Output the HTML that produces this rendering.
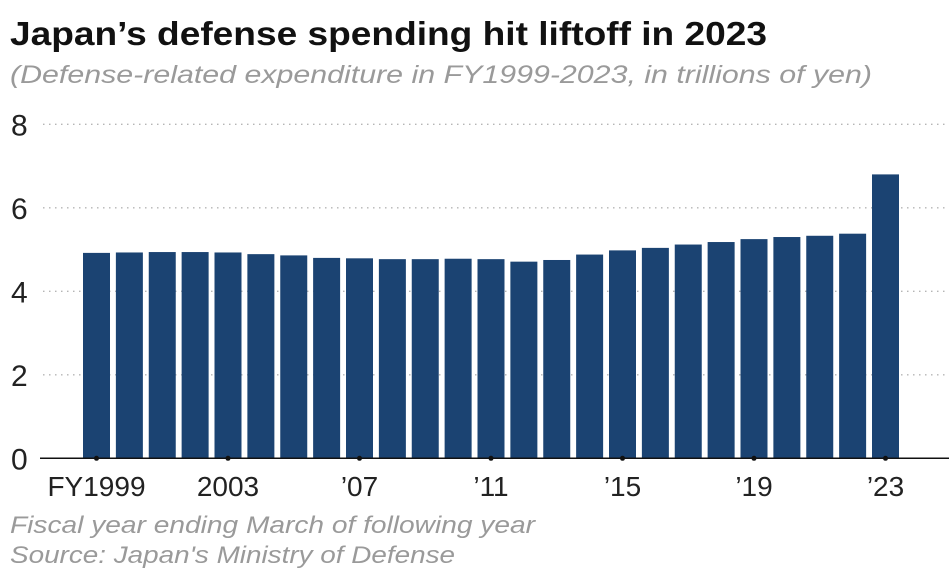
<!DOCTYPE html>
<html><head><meta charset="utf-8"><style>
body{margin:0;background:#fff;width:949px;height:577px;overflow:hidden;font-family:"Liberation Sans",sans-serif}
</style></head><body>
<svg width="949" height="577">
<text x="10" y="45" font-size="33" font-weight="bold" fill="#111" textLength="757" lengthAdjust="spacingAndGlyphs">Japan’s defense spending hit liftoff in 2023</text>
<text x="10" y="83" font-size="25" font-style="italic" fill="#9a9a9a" textLength="862" lengthAdjust="spacingAndGlyphs">(Defense-related expenditure in FY1999-2023, in trillions of yen)</text>
<g id="grid"></g><g id="bars"></g><g id="axis"></g>
<text x="10" y="533" font-size="24" font-style="italic" fill="#9a9a9a" textLength="525" lengthAdjust="spacingAndGlyphs">Fiscal year ending March of following year</text>
<text x="10" y="563" font-size="24" font-style="italic" fill="#9a9a9a" textLength="445" lengthAdjust="spacingAndGlyphs">Source: Japan's Ministry of Defense</text>
</svg>
<script>
const years=[1999,2000,2001,2002,2003,2004,2005,2006,2007,2008,2009,2010,2011,2012,2013,2014,2015,2016,2017,2018,2019,2020,2021,2022,2023];
const values=[4.92,4.93,4.94,4.94,4.93,4.89,4.86,4.80,4.79,4.77,4.77,4.78,4.77,4.71,4.75,4.88,4.98,5.04,5.12,5.18,5.25,5.30,5.33,5.38,6.80];
const yTicks=[0,2,4,6,8];
const xTickYears=[1999,2003,2007,2011,2015,2019,2023];
const xTickLabels=["FY1999","2003","’07","’11","’15","’19","’23"];
const NS="http://www.w3.org/2000/svg";
const y0=458.3,yk=(458.3-124.3)/8;
const yS=v=>y0-v*yk;
const x0=83,pitch=32.875,bw=27;
const xS=i=>x0+i*pitch;
function mk(t,a,p){const e=document.createElementNS(NS,t);for(const k in a)e.setAttribute(k,a[k]);p.appendChild(e);return e;}
const grid=document.getElementById('grid'),bars=document.getElementById('bars'),axis=document.getElementById('axis');
yTicks.forEach(v=>{
 if(v>0){const l=mk('line',{x1:43,x2:949,y1:yS(v),y2:yS(v),stroke:'#b5b5b5','stroke-width':1.3,'stroke-dasharray':'1.5 4.5'},grid);
 
 }
 const t=mk('text',{x:11,y:yS(v)+11,'font-size':30,fill:'#222'},grid);t.textContent=v;
 
 
});
values.forEach((v,i)=>{
 const r=mk('rect',{x:xS(i),y:yS(v),width:bw,height:y0-yS(v),fill:'#1b4372'},bars);
 
 
});
const ax=mk('line',{x1:40,x2:949,y1:y0,y2:y0,stroke:'#111','stroke-width':1.5},axis);


xTickYears.forEach((yr,k)=>{
 const i=years.indexOf(yr),cx=xS(i)+bw/2;
 const d=mk('circle',{cx:cx,cy:y0,r:2.5,fill:'#111'},axis);
 
 
 const t=mk('text',{x:cx,y:496,'font-size':28,fill:'#222','text-anchor':'middle'},axis);t.textContent=xTickLabels[k];
 
 
});
</script>
</body></html>
